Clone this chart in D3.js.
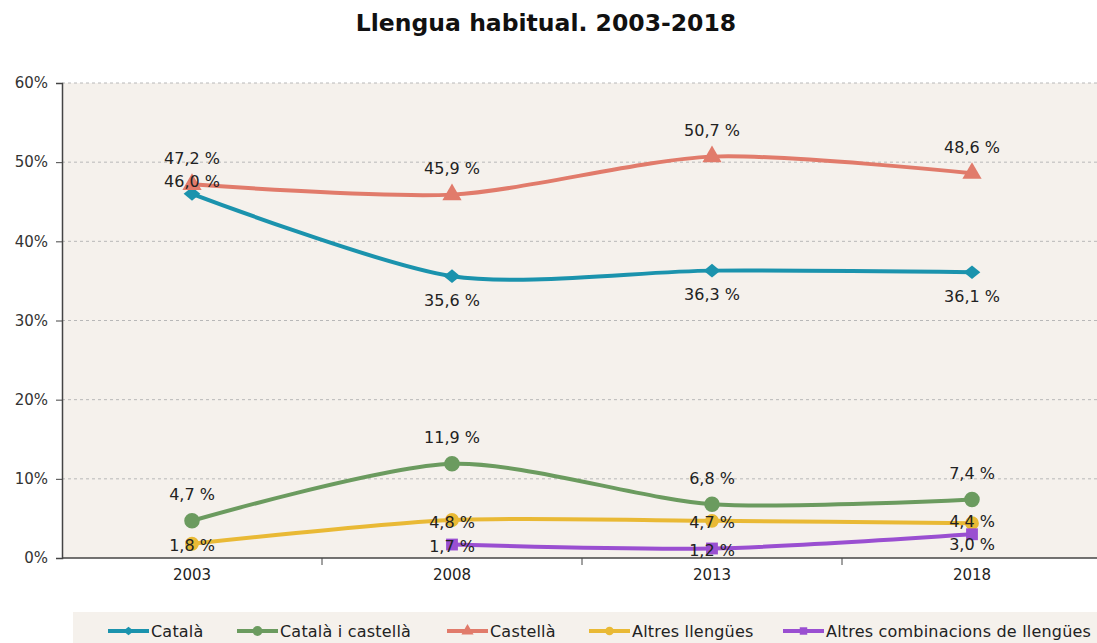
<!DOCTYPE html>
<html>
<head>
<meta charset="utf-8">
<script src="https://cdn.jsdelivr.net/npm/d3@7"></script>
<style>
  body { margin: 0; background: #fff; }
  svg text { font-family: "DejaVu Sans", Verdana, sans-serif; fill: #222; }
</style>
</head>
<body>
<script>
// data
var years = ["2003", "2008", "2013", "2018"];
var seriesNames = ["Català", "Català i castellà", "Castellà", "Altres llengües", "Altres combinacions de llengües"];
var catala = [46.0, 35.6, 36.3, 36.1];
var catalaCastella = [4.7, 11.9, 6.8, 7.4];
var castella = [47.2, 45.9, 50.7, 48.6];
var altres = [1.8, 4.8, 4.7, 4.4];
var altresComb = [null, 1.7, 1.2, 3.0];
var yTicks = [0, 10, 20, 30, 40, 50, 60];

var width = 1097, height = 643;

var svg = d3.select("body").append("svg")
  .attr("width", width).attr("height", height);

var x = d3.scaleBand().domain(years).range([62, 1102]);
var y = d3.scaleLinear().domain([0, 60]).range([558, 83]);

// wide diamond like the excel one
var wideDiamond = {
  draw: function(ctx, size){
    var r = Math.sqrt(size / 2);
    ctx.moveTo(0, -r * 0.9);
    ctx.lineTo(r * 1.1, 0);
    ctx.lineTo(0, r * 0.9);
    ctx.lineTo(-r * 1.1, 0);
    ctx.closePath();
  }
};

// style per series (drawing only)
var styles = [
  {color: "#1b93ad", marker: wideDiamond, size: 115, dy: [-12, 24, 24, 24]},
  {color: "#6b9b5f", marker: d3.symbolCircle, size: 190, dy: [-26, -26, -26, -26]},
  {color: "#e17b6b", marker: d3.symbolTriangle, size: 160, dy: [-26, -26, -26, -26]},
  {color: "#e9b935", marker: d3.symbolCircle, size: 150, dy: [2, 2, 2, -2]},
  {color: "#9a4fd1", marker: d3.symbolSquare, size: 140, dy: [2, 2, 2, 10]}
];
var allValues = [catala, catalaCastella, castella, altres, altresComb];

// plot background
svg.append("rect")
  .attr("x", 62).attr("y", y(60))
  .attr("width", width - 62).attr("height", y(0) - y(60))
  .attr("fill", "#f5f1ec");

// grid
svg.append("g").selectAll("line")
  .data(yTicks.filter(function(d){ return d > 0; }))
  .enter().append("line")
  .attr("x1", 62).attr("x2", width)
  .attr("y1", function(d){ return y(d); })
  .attr("y2", function(d){ return y(d); })
  .attr("stroke", "#b8b8b8")
  .attr("stroke-dasharray", "3,3")
  .attr("stroke-width", 1);

// y axis
var yAxis = svg.append("g")
  .attr("transform", "translate(62,0)")
  .call(d3.axisLeft(y).tickValues(yTicks).tickSize(6).tickFormat(function(d){ return d + "%"; }));
yAxis.select(".domain").attr("stroke", "#444").attr("stroke-width", 1.5);
yAxis.selectAll(".tick line").attr("stroke", "#444");
yAxis.selectAll("text").attr("font-size", 15).attr("x", -14).style("fill", "#333");

// x axis
var xAxis = svg.append("g")
  .attr("transform", "translate(0,558)")
  .call(d3.axisBottom(x).tickSize(0).tickPadding(11));
xAxis.select(".domain").attr("stroke", "#444").attr("stroke-width", 1.5).attr("d", "M62,0H" + width);
xAxis.selectAll("text").attr("font-size", 15).style("fill", "#222");
svg.append("g").selectAll("line")
  .data(years.slice(1))
  .enter().append("line")
  .attr("x1", function(d){ return x(d); })
  .attr("x2", function(d){ return x(d); })
  .attr("y1", 558).attr("y2", 565)
  .attr("stroke", "#444");

var fmt = function(v){ return v.toFixed(1).replace(".", ",") + " %"; };

allValues.forEach(function(vals, s){
  var st = styles[s];
  var pts = vals.map(function(v, i){ return {v: v, i: i}; }).filter(function(p){ return p.v != null; });
  svg.append("path")
    .datum(pts)
    .attr("fill", "none")
    .attr("stroke", st.color)
    .attr("stroke-width", 4)
    .attr("d", d3.line()
      .x(function(p){ return x(years[p.i]) + x.bandwidth() / 2; })
      .y(function(p){ return y(p.v); })
      .curve(d3.curveCardinal.tension(0.2)));

  svg.append("g").selectAll("path")
    .data(pts).enter().append("path")
    .attr("d", d3.symbol().type(st.marker).size(st.size))
    .attr("transform", function(p){
      return "translate(" + (x(years[p.i]) + x.bandwidth() / 2) + "," + y(p.v) + ")";
    })
    .attr("fill", st.color);
});

// value labels drawn after all lines
allValues.forEach(function(vals, s){
  var st = styles[s];
  vals.forEach(function(v, i){
    if (v == null) return;
    svg.append("text")
      .attr("x", x(years[i]) + x.bandwidth() / 2)
      .attr("y", y(v) + st.dy[i])
      .attr("dy", "0.35em")
      .attr("text-anchor", "middle")
      .attr("font-size", 16)
      .text(fmt(v));
  });
});

// title
svg.append("text")
  .attr("x", 546).attr("y", 31)
  .attr("text-anchor", "middle")
  .attr("font-size", 23.5)
  .attr("font-weight", "bold")
  .style("fill", "#111")
  .text("Llengua habitual. 2003-2018");

// legend
svg.append("rect")
  .attr("x", 73).attr("y", 612)
  .attr("width", width - 73).attr("height", 31)
  .attr("fill", "#f5f1ec");

var legendX = [108, 237, 447, 589, 783];
seriesNames.forEach(function(name, s){
  var st = styles[s];
  var lg = svg.append("g").attr("transform", "translate(" + legendX[s] + ",631)");
  lg.append("line")
    .attr("x1", 0).attr("x2", 41)
    .attr("stroke", st.color).attr("stroke-width", 4);
  lg.append("path")
    .attr("d", d3.symbol().type(st.marker).size(st.size * 0.4))
    .attr("transform", "translate(20.5,0)")
    .attr("fill", st.color);
  lg.append("text")
    .attr("x", 43).attr("dy", "0.35em")
    .attr("font-size", 16)
    .attr("letter-spacing", 0.2)
    .text(name);
});
</script>
</body>
</html>
